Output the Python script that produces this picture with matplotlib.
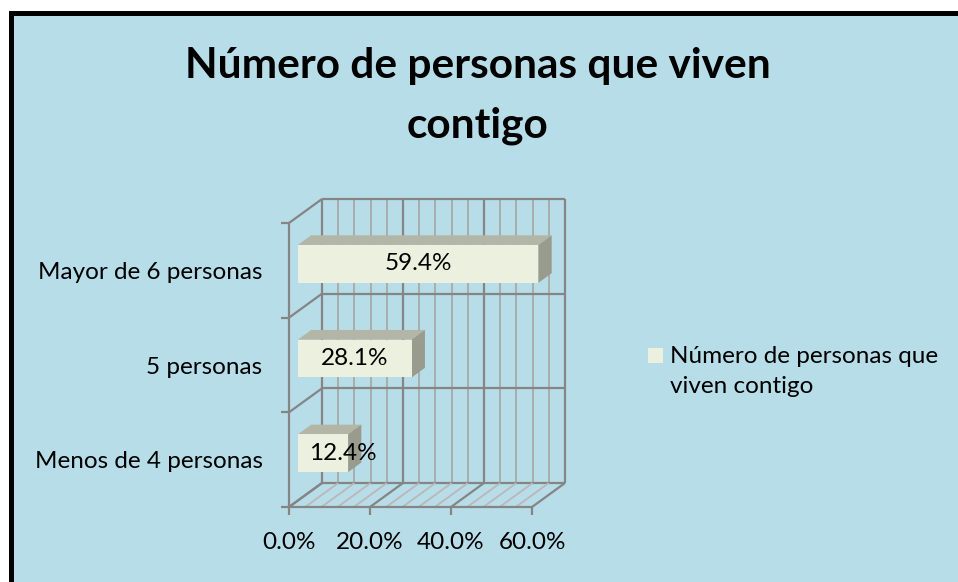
import matplotlib
matplotlib.use("Agg")
import matplotlib.pyplot as plt
from matplotlib.patches import Polygon, Rectangle
from matplotlib.lines import Line2D

# data
categories = ["Menos de 4 personas", "5 personas", "Mayor de 6 personas"]
values = [12.4, 28.1, 59.4]
value_labels = ["12.4%", "28.1%", "59.4%"]
x_ticks = [0, 20, 40, 60]
x_tick_labels = ["0.0%", "20.0%", "40.0%", "60.0%"]
series_name = "Número de personas que\nviven contigo"
title = "Número de personas que viven\ncontigo"

W, H = 958, 582
BG = "#B7DDE8"
FRONT = "#EBF1DE"
TOP = "#B3B6A6"
SIDE = "#999B8D"
GRID_MAJ = "#858585"
GRID_MIN = "#A8A8A8"
FLOOR_MIN = "#BDB6B8"
FONT = "Lato"
FS = 17.5

fig = plt.figure(figsize=(W / 100, H / 100), dpi=100)
fig.patch.set_facecolor("white")

# light blue chart area, black frame only visible on top and left
fx, fy = 10.5 / W, 1 - 12.5 / H
fig.add_artist(Rectangle((fx, 0), 1 - fx, fy, transform=fig.transFigure,
                         facecolor=BG, edgecolor="none", zorder=0))
fig.add_artist(Line2D([fx, fx, 1], [0, fy, fy], transform=fig.transFigure,
                      color="black", lw=3.6, solid_joinstyle="miter", zorder=0.5))

# front plane of the 3d box: 0..60 % by 0..3 categories
ax = fig.add_axes([289 / W, (H - 507) / H, 243 / W, 284 / H])
ax.set_facecolor("none")
xmax = x_ticks[-1]
ncat = len(categories)
ax.set_xlim(0, xmax)
ax.set_ylim(0, ncat)

# depth offset of the back wall, in data units
DXd = 33 / 243 * xmax
DYd = 24 / 284 * ncat

kw = dict(clip_on=False, solid_capstyle="butt")
# back wall
for v in range(0, xmax + 1, 4):
    major = v % 20 == 0
    ax.plot([v + DXd, v + DXd], [DYd, ncat + DYd],
            color=GRID_MAJ if major else GRID_MIN, lw=1.6 if major else 1.3, zorder=1, **kw)
for c in range(ncat + 1):
    ax.plot([DXd, xmax + DXd], [c + DYd, c + DYd], color=GRID_MAJ, lw=1.6, zorder=1, **kw)
    # left wall
    ax.plot([0, DXd], [c, c + DYd], color=GRID_MAJ, lw=1.6, zorder=1, **kw)
# floor
for v in range(0, xmax + 1, 4):
    major = v % 20 == 0
    ax.plot([v, v + DXd], [0, DYd], color=GRID_MAJ if major else FLOOR_MIN,
            lw=1.6 if major else 1.3, zorder=1, **kw)

# 3d bars sitting between depth d1 and d2
d1, d2 = 0.27, 0.67
half = 0.2
for c, (v, lab) in enumerate(zip(values, value_labels)):
    x1, y1 = d1 * DXd, c + 0.5 - half + d1 * DYd
    y2 = c + 0.5 + half + d1 * DYd
    ox, oy = (d2 - d1) * DXd, (d2 - d1) * DYd
    ax.add_patch(Polygon([(x1, y2), (x1 + v, y2), (x1 + v + ox, y2 + oy), (x1 + ox, y2 + oy)],
                         closed=True, facecolor=TOP, edgecolor="none", zorder=3, clip_on=False))
    ax.add_patch(Polygon([(x1 + v, y1), (x1 + v + ox, y1 + oy), (x1 + v + ox, y2 + oy), (x1 + v, y2)],
                         closed=True, facecolor=SIDE, edgecolor="none", zorder=3, clip_on=False))
    ax.add_patch(Rectangle((x1, y1), v, y2 - y1, facecolor=FRONT, edgecolor="none",
                           zorder=4, clip_on=False))
    ax.text(x1 + max(v / 2, 11), (y1 + y2) / 2, lab, ha="center", va="center",
            fontsize=FS, family=FONT, zorder=5)

# axes: front-left line and front floor line
for s in ["top", "right"]:
    ax.spines[s].set_visible(False)
for s in ["left", "bottom"]:
    ax.spines[s].set_color(GRID_MAJ)
    ax.spines[s].set_linewidth(1.6)
    ax.spines[s].set_zorder(2)
ax.set_xticks(x_ticks)
ax.set_xticklabels(x_tick_labels, fontsize=FS, family=FONT)
ax.tick_params(axis="x", length=6, width=1.6, color=GRID_MAJ, pad=12)
ax.set_yticks(range(ncat + 1))
ax.set_yticklabels([])
ax.set_yticks([c + 0.5 for c in range(ncat)], minor=True)
ax.set_yticklabels(categories, minor=True, fontsize=FS, family=FONT)
ax.tick_params(axis="y", which="major", length=6, width=1.6, color=GRID_MAJ)
ax.tick_params(axis="y", which="minor", length=0, pad=19)

# title
lines = title.split("\n")
fig.text(478 / W, 1 - 78 / H, lines[0], ha="center", va="baseline",
         fontsize=30.5, fontweight="bold", family=FONT)
fig.text(478 / W, 1 - 137 / H, lines[1], ha="center", va="baseline",
         fontsize=30.5, fontweight="bold", family=FONT)

# legend
fig.add_artist(Rectangle((648 / W, 1 - 363 / H), 15 / W, 15 / H, transform=fig.transFigure,
                         facecolor=FRONT, edgecolor="none"))
leg = series_name.split("\n")
fig.text(670 / W, 1 - 363 / H, leg[0], ha="left", va="baseline", fontsize=FS, family=FONT)
fig.text(670 / W, 1 - 393 / H, leg[1], ha="left", va="baseline", fontsize=FS, family=FONT)

fig.savefig("out.png", dpi=100)
